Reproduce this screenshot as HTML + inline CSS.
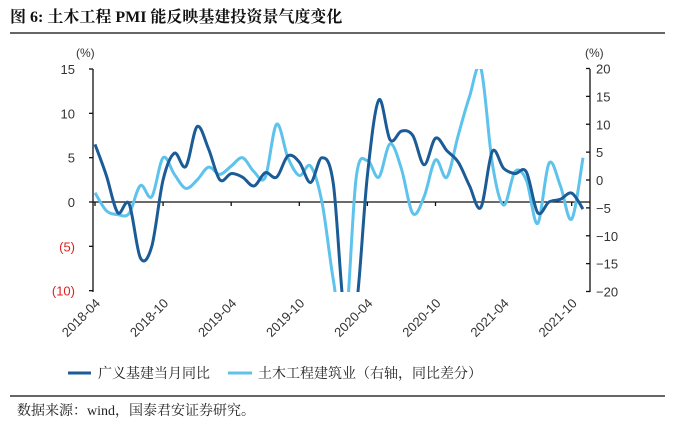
<!DOCTYPE html>
<html><head><meta charset="utf-8">
<style>
html,body{margin:0;padding:0;background:#fff;}
body{width:674px;height:430px;overflow:hidden;position:relative;font-family:"Liberation Sans","Noto Sans CJK SC",sans-serif;}
svg{position:absolute;left:0;top:0;}
</style></head><body>
<svg id="chart" width="674" height="430" viewBox="0 0 674 430" xmlns="http://www.w3.org/2000/svg">
<text x="10" y="22" font-family="'Liberation Serif','Noto Serif CJK SC',serif" font-weight="bold" font-size="16" fill="#111">图 6: 土木工程 PMI 能反映基建投资景气度变化</text>
<line x1="10" y1="33" x2="665" y2="33" stroke="#333" stroke-width="1.5"/>
<text x="76" y="57" font-size="12" fill="#333" font-family="'Liberation Sans','Noto Sans CJK SC',sans-serif">(%)</text>
<text x="585" y="57" font-size="12" fill="#333" font-family="'Liberation Sans','Noto Sans CJK SC',sans-serif">(%)</text>
<g id="axes"></g>
<defs><clipPath id="plotclip"><rect x="93" y="69" width="497" height="223"/></clipPath></defs>
<g id="series" clip-path="url(#plotclip)"></g>
<g>
<line x1="68" y1="373" x2="91" y2="373" stroke="#1b5c97" stroke-width="3"/>
<text x="98" y="378" font-size="14" fill="#222" font-family="'Liberation Serif','Noto Serif CJK SC',serif">广义基建当月同比</text>
<line x1="228" y1="373" x2="252" y2="373" stroke="#5ec3ec" stroke-width="3"/>
<text x="258" y="378" font-size="14" fill="#222" font-family="'Liberation Serif','Noto Serif CJK SC',serif">土木工程建筑业（右轴，同比差分）</text>
</g>
<line x1="10" y1="396" x2="665" y2="396" stroke="#333" stroke-width="1.5"/>
<text x="17" y="415" font-size="14" fill="#222" font-family="'Liberation Serif','Noto Serif CJK SC',serif">数据来源：wind，国泰君安证券研究。</text>
</svg>
<script>
const infraYoY = [6.5,3,-1.2,-0.2,-6.3,-5,2.5,5.5,4,8.5,6,2.5,3.2,2.8,1.8,3.3,2.8,5.2,4.5,2.2,5,2,-13,-12,3,11.5,7,8,7.5,4.2,7.2,5.8,4.5,1.8,-0.6,5.7,3.8,3.2,3.4,-1.2,0,0.3,1,-0.8];
const pmiDiff = [-2.3,-5.5,-6.2,-6,-1,-3,4,1,-1.5,0,2.3,1,2.5,4,1.5,0.5,10,4,0.8,2.5,-4,-18,-28,0.3,3.5,0.5,6.5,2,-6,-3,3.6,0.5,8,15,20,3,-4.5,1.5,0,-7.8,3,-1,-7,4];
const leftTicks = [15,10,5,0,-5,-10];
const leftTickLabels = ["15","10","5","0","(5)","(10)"];
const rightTicks = [20,15,10,5,0,-5,-10,-15,-20];
const dateLabels = ["2018-04","2018-10","2019-04","2019-10","2020-04","2020-10","2021-04","2021-10"];
const dateTickIdx = [0,6,12,18,24,30,36,42];

const NS="http://www.w3.org/2000/svg";
const X0=95, PITCH=11.35;
function xPos(i){return X0+i*PITCH;}
function yLeft(v){return 202-(v)*(133/15);}
function yRight(v){return 180-(v)*(111.5/20);}
function mk(tag,attrs,parent){const e=document.createElementNS(NS,tag);for(const k in attrs)e.setAttribute(k,attrs[k]);parent.appendChild(e);return e;}
const axes=document.getElementById('axes');
const series=document.getElementById('series');

let la=mk('line',{x1:93,y1:69,x2:93,y2:292,stroke:'#111','stroke-width':1.3},axes);


leftTicks.forEach((v,k)=>{
  const y=yLeft(v);
  const t=mk('line',{x1:89,y1:y,x2:93,y2:y,stroke:'#111','stroke-width':1.3},axes);
  
  
  const tx=mk('text',{x:75,y:y+5,'text-anchor':'end','font-size':13,fill:v<0?'#e02020':'#333'},axes);
  tx.textContent=leftTickLabels[k];
  
  
});
let ra=mk('line',{x1:590,y1:69,x2:590,y2:292,stroke:'#111','stroke-width':1.3},axes);


rightTicks.forEach(v=>{
  const y=yRight(v);
  const t=mk('line',{x1:586,y1:y,x2:590,y2:y,stroke:'#111','stroke-width':1.3},axes);
  
  
  const tx=mk('text',{x:596,y:y+5,'font-size':13,fill:'#333'},axes);
  tx.textContent=(v<0?'\u2212'+(-v):String(v));
  
  
});
const z=yLeft(0);
let zl=mk('line',{x1:93,y1:z,x2:590,y2:z,stroke:'#111','stroke-width':1.3},axes);


dateTickIdx.forEach((idx,k)=>{
  const x=xPos(idx);
  const t=mk('line',{x1:x,y1:z,x2:x,y2:z+4,stroke:'#111','stroke-width':1.3},axes);
  
  
  const lx=x+6, ly=304;
  const tx=mk('text',{x:lx,y:ly,'text-anchor':'end','font-size':13,fill:'#333',transform:'rotate(-45 '+lx+' '+ly+')'},axes);
  tx.textContent=dateLabels[k];
  
  
});

function smoothPath(pts){
  let d='M'+pts[0][0].toFixed(1)+','+pts[0][1].toFixed(1);
  for(let i=0;i<pts.length-1;i++){
    const p0=pts[i-1]||pts[i],p1=pts[i],p2=pts[i+1],p3=pts[i+2]||p2;
    const c1x=p1[0]+(p2[0]-p0[0])/6,c1y=p1[1]+(p2[1]-p0[1])/6;
    const c2x=p2[0]-(p3[0]-p1[0])/6,c2y=p2[1]-(p3[1]-p1[1])/6;
    d+=' C'+c1x.toFixed(1)+','+c1y.toFixed(1)+' '+c2x.toFixed(1)+','+c2y.toFixed(1)+' '+p2[0].toFixed(1)+','+p2[1].toFixed(1);
  }
  return d;
}
const pLight=mk('path',{d:smoothPath(pmiDiff.map((v,i)=>[xPos(i),yRight(v)])),fill:'none',stroke:'#5ec3ec','stroke-width':3,'stroke-linejoin':'round'},series);


const pDark=mk('path',{d:smoothPath(infraYoY.map((v,i)=>[xPos(i),yLeft(v)])),fill:'none',stroke:'#1b5c97','stroke-width':3,'stroke-linejoin':'round'},series);


</script>
</body></html>
